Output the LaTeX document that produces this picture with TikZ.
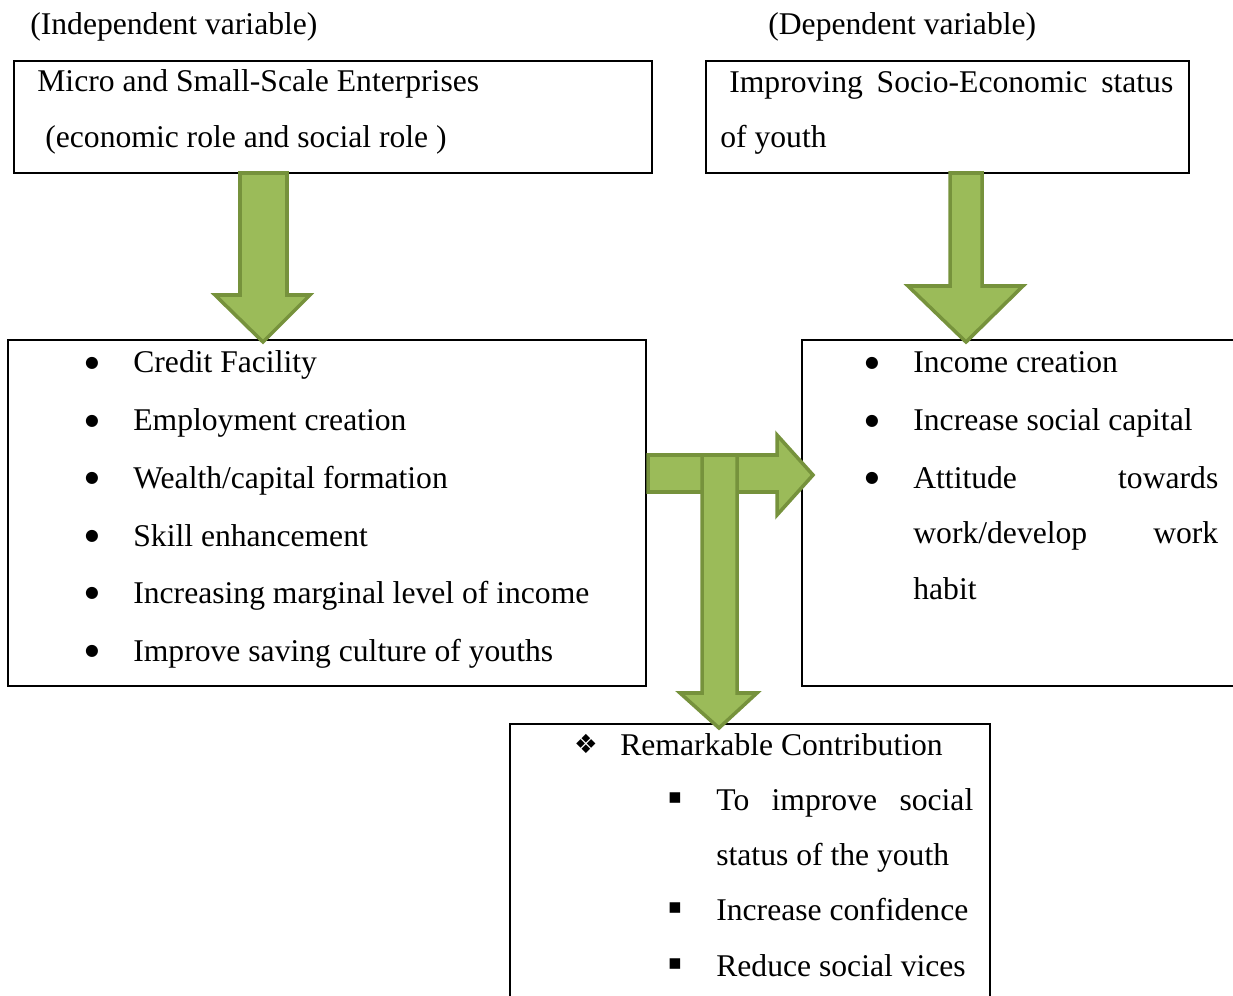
\documentclass[tikz,border=0pt]{standalone}
\usepackage{fontspec}
\setmainfont{Liberation Serif}
\newfontfamily\symfont{DejaVu Sans}
\usepackage{tikz}
\usetikzlibrary{positioning}
\definecolor{arrowfill}{RGB}{155,187,89}
\definecolor{arrowline}{RGB}{118,146,60}

\begin{document}
\begin{tikzpicture}[x=.02cm,y=-.02cm,
  font=\fontsize{18}{22}\selectfont,
  box/.style={draw=black,line width=1.1pt},
  txt/.style={anchor=base west,inner sep=0pt},
  dotmark/.style={anchor=center,inner sep=0pt,font=\symfont\fontsize{9}{11}\selectfont},
  sqmark/.style={anchor=center,inner sep=0pt,font=\symfont\fontsize{12}{14}\selectfont},
  blockarrow/.style={draw=arrowline,fill=arrowfill,line width=2pt,line join=miter}]

\path[use as bounding box] (0,0) rectangle (1233,996);
\clip (0,0) rectangle (1233,996);

% headers
\node[txt] (indhead) at (30,35) {(Independent variable)};
\node[txt] (dephead) at (768,35) {(Dependent variable)};

% top boxes
\draw[box] (14,61) rectangle (652,173);
\node[txt] (msename) at (37,92) {Micro and Small-Scale Enterprises};
\node[txt] (mserole) at (45,148) {(economic role and social role )};
\draw[box] (706,61) rectangle (1189,173);
\node[txt] (sestitle) at (729,93) {\makebox[8.88cm][l]{Improving\hfill Socio-Economic\hfill status}};
\node[txt] (sesyouth) at (720,148) {of youth};

% independent list
\draw[box] (8,340) rectangle (646,686);
\node[dotmark] (ib1) at (92,363) {●};
\node[txt] (credit) at (133,373) {Credit Facility};
\node[dotmark] (ib2) at (92,421) {●};
\node[txt] (employ) at (133,431) {Employment creation};
\node[dotmark] (ib3) at (92,478) {●};
\node[txt] (wealth) at (133,488) {Wealth/capital formation};
\node[dotmark] (ib4) at (92,536) {●};
\node[txt] (skill) at (133,546) {Skill enhancement};
\node[dotmark] (ib5) at (92,593) {●};
\node[txt] (margin) at (133,603) {Increasing marginal level of income};
\node[dotmark] (ib6) at (92,651) {●};
\node[txt] (saving) at (133,661) {Improve saving culture of youths};

% dependent list
\draw[box] (802,340) rectangle (1250,686);
\node[dotmark] (db1) at (872,363) {●};
\node[txt] (income) at (913,373) {Income creation};
\node[dotmark] (db2) at (872,421) {●};
\node[txt] (capital) at (913,431) {Increase social capital};
\node[dotmark] (db3) at (872,478) {●};
\node[txt] (attitude) at (913,488) {\makebox[6.1cm][l]{Attitude\hfill towards}};
\node[txt] (develop) at (913,543) {\makebox[6.1cm][l]{work/develop\hfill work}};
\node[txt] (habit) at (913,599) {habit};

% contribution box
\draw[box] (510,724) rectangle (990,1010);
\node[anchor=center,inner sep=0pt,font=\symfont\fontsize{15}{18}\selectfont] (rcmark) at (586,744) {❖};
\node[txt] (remark) at (620,755) {Remarkable Contribution};
\node[sqmark] (cb1) at (675,798) {▪};
\node[txt] (improve) at (716,810) {\makebox[5.14cm][l]{To\hfill improve\hfill social}};
\node[txt] (status) at (716,865) {status of the youth};
\node[sqmark] (cb2) at (675,908) {▪};
\node[txt] (confid) at (716,920) {Increase confidence};
\node[sqmark] (cb3) at (675,964) {▪};
\node[txt] (vices) at (716,976) {Reduce social vices};

% block arrows
\draw[blockarrow] (648,455)--(777,455)--(777,435)--(813,475)--(777,515)--(777,492)--(648,492)--cycle;
\draw[blockarrow] (702,455)--(737,455)--(737,693)--(757,693)--(719,728)--(680,693)--(702,693)--cycle;
\draw[blockarrow] (240,173)--(287,173)--(287,295)--(310,295)--(263,342)--(215,295)--(240,295)--cycle;
\draw[blockarrow] (950,173)--(982,173)--(982,286)--(1023,286)--(966,342)--(908,286)--(950,286)--cycle;

\end{tikzpicture}
\end{document}
